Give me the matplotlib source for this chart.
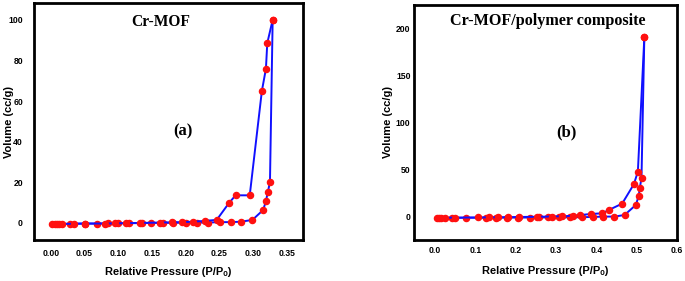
import matplotlib
matplotlib.use("Agg")
import matplotlib.pyplot as plt

# Panel (a): Cr-MOF
a_ads_p = [0.001, 0.006, 0.012, 0.028, 0.050, 0.068, 0.085, 0.100, 0.116, 0.135, 0.149,
           0.167, 0.181, 0.201, 0.217, 0.233, 0.251, 0.267, 0.282, 0.299, 0.315, 0.319,
           0.322, 0.325, 0.329]
a_ads_v = [-0.6, -0.5, -0.5, -0.4, -0.3, -0.3, -0.2, -0.2, -0.1, -0.1, 0.0,
           0.0, 0.1, 0.1, 0.2, 0.2, 0.4, 0.4, 0.6, 1.5, 6.4, 10.8,
           15.4, 20.2, 100.0]
a_des_p = [0.329, 0.321, 0.319, 0.313, 0.295, 0.274, 0.264, 0.246, 0.228, 0.211, 0.195,
           0.179, 0.162, 0.132, 0.112, 0.095, 0.080, 0.050, 0.034, 0.016, 0.009]
a_des_v = [100.0, 88.5, 75.9, 65.0, 13.6, 13.6, 9.7, 1.5, 1.0, 0.6, 0.4,
           0.3, 0.2, 0.0, -0.1, -0.2, -0.3, -0.3, -0.4, -0.5, -0.5]

# Panel (b): Cr-MOF/polymer composite
b_ads_p = [0.004, 0.016, 0.043, 0.078, 0.127, 0.152, 0.179, 0.205, 0.236, 0.259, 0.281,
           0.308, 0.335, 0.365, 0.392, 0.417, 0.445, 0.470, 0.498, 0.505, 0.508, 0.512, 0.519]
b_ads_v = [-1.0, -1.0, -0.9, -0.8, -0.8, -0.7, -0.7, -0.6, -0.6, -0.5, -0.5,
           -0.4, -0.3, -0.2, 0.0, 0.4, 0.4, 2.1, 12.8, 22.3, 31.2, 41.8, 191.0]
b_des_p = [0.519, 0.503, 0.493, 0.464, 0.431, 0.415, 0.387, 0.359, 0.341, 0.314, 0.289,
           0.254, 0.209, 0.182, 0.156, 0.133, 0.107, 0.049, 0.025, 0.010]
b_des_v = [191.0, 48.2, 34.8, 14.2, 7.4, 3.9, 3.2, 2.0, 1.2, 0.8, 0.5,
           0.2, 0.0, -0.2, -0.3, -0.4, -0.5, -0.7, -0.8, -0.9]

a_xticks = [0.00, 0.05, 0.10, 0.15, 0.20, 0.25, 0.30, 0.35]
a_xlabels = ["0.00", "0.05", "0.10", "0.15", "0.20", "0.25", "0.30", "0.35"]
a_yticks = [0, 20, 40, 60, 80, 100]
b_xticks = [0.0, 0.1, 0.2, 0.3, 0.4, 0.5, 0.6]
b_xlabels = ["0.0", "0.1", "0.2", "0.3", "0.4", "0.5", "0.6"]
b_yticks = [0, 50, 100, 150, 200]

fig = plt.figure(figsize=(6.85, 2.81), dpi=100)
axA = fig.add_axes([34/685, 1-240/281, (303-34)/685, 237/281])
axB = fig.add_axes([414/685, 1-240/281, (677-414)/685, 235/281])

sans = ["Liberation Sans", "DejaVu Sans"]
serif = ["Liberation Serif", "DejaVu Serif"]

def style(ax, xt, xl, yt, xlim, ylim, ypad, xpad, ylab_x, title, title_xy, tfs, tag, tag_xy):
    ax.set_xlim(*xlim)
    ax.set_ylim(*ylim)
    ax.set_xticks(xt)
    ax.set_xticklabels(xl)
    ax.set_yticks(yt)
    ax.tick_params(axis="both", length=0, labelsize=6.2)
    ax.tick_params(axis="y", pad=ypad)
    ax.tick_params(axis="x", pad=xpad)
    for lab in ax.get_xticklabels() + ax.get_yticklabels():
        lab.set_fontweight("bold")
        lab.set_family(sans)
    for s in ax.spines.values():
        s.set_linewidth(2.0)
        s.set_color("black")
    ax.set_xlabel("Relative Pressure (P/P\u2092)", fontsize=8, fontweight="bold", family=sans)
    ax.set_ylabel("Volume (cc/g)", fontsize=8, fontweight="bold", family=sans)
    ax.xaxis.set_label_coords(0.5, -0.134)
    ax.xaxis.label.set_va("center")
    ax.yaxis.set_label_coords(ylab_x, 0.5)
    ax.yaxis.label.set_va("center")
    ax.text(title_xy[0], title_xy[1], title, transform=ax.transAxes, ha="center", va="center",
            fontsize=tfs, fontweight="bold", family=serif)
    ax.text(tag_xy[0], tag_xy[1], tag, transform=ax.transAxes, ha="center", va="center",
            fontsize=12, fontweight="bold", family=serif)

line_kw = dict(color="#1010ff", lw=1.4, marker="o", markersize=4.4,
               markerfacecolor="#ff1010", markeredgecolor="#ff1010", zorder=3)

axA.plot(a_ads_p, a_ads_v, **line_kw)
axA.plot(a_des_p, a_des_v, **line_kw)
axB.plot(b_ads_p, b_ads_v, **line_kw)
axB.plot(b_des_p, b_des_v, **line_kw)

style(axA, a_xticks, a_xlabels, a_yticks, (-0.025, 0.374), (-8.4, 108.3), 8, 6.5,
      -0.093, "Cr-MOF", (0.472, 0.92), 11.2, "(a)", (0.552, 0.457))
style(axB, b_xticks, b_xlabels, b_yticks, (-0.052, 0.597), (-24.5, 225.5), 2.5, 4.5,
      -0.099, "Cr-MOF/polymer composite", (0.51, 0.933), 11.6, "(b)", (0.58, 0.46))

fig.savefig("out.png", dpi=100)
